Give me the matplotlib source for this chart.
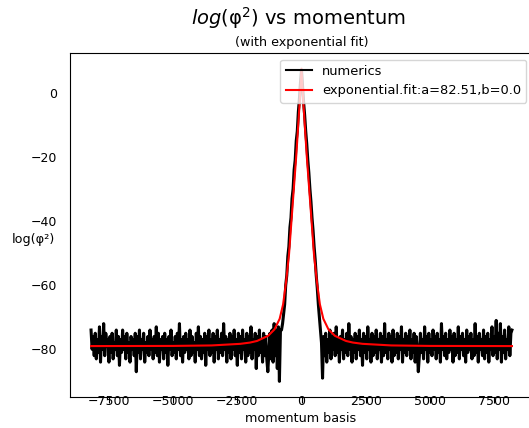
import numpy as np
import matplotlib
matplotlib.use("Agg")
import matplotlib.pyplot as plt

# ---- data ----
noise_left = [
    -74, -80, -76, -82, -75, -83, -77, -81, -73, -84,
    -76, -80, -72, -82, -75, -79, -77, -84, -76, -81,
    -75, -83, -78, -80, -74, -82, -76, -85, -77, -81,
    -74, -80, -76, -83, -75, -81, -78, -84, -76, -80,
    -77, -82, -75, -87, -76, -81, -74, -83, -77, -80,
    -75, -84, -78, -81, -76, -82, -74, -80, -77, -83,
    -76, -81, -73, -82, -75, -84, -77, -80, -76, -83,
    -75, -81, -77, -85, -76, -80, -74, -82, -78, -81,
    -76, -83, -75, -80, -72, -82, -77, -84, -76, -81,
    -75, -80, -77, -83, -74, -82, -76, -81, -78, -84,
    -75, -80, -73, -82, -76, -83, -77, -81, -75, -85,
    -76, -80, -74, -82, -77, -81, -75, -84, -76, -80,
    -74, -83, -77, -81, -75, -82, -72, -80, -76, -84,
    -77, -81, -75, -83, -76, -80, -74, -82, -77, -85,
    -75, -81, -76, -83, -74, -80, -77, -84, -75, -82,
    -76, -81, -73, -83, -77, -80, -75, -86, -76, -82,
    -74, -81, -77, -84, -75, -82, -76, -83, -87, -81,
    -75, -83, -74, -84, -72, -82, -74, -86, -73, -90,
    -74,
]
peak = [
    -74, -72, -69, -66, -60, -57, -51, -48, -42, -39,
    -33, -30, -24, -21, -15, -12, -6, -2, 3, 7,
    2, -3, -7, -12, -16, -21, -25, -30, -34, -39,
    -43, -48, -52, -57, -61, -66, -70, -74, -78,
]
noise_right = [
    -89, -76, -82, -75, -84, -77, -81, -74, -83, -76,
    -80, -75, -82, -73, -81, -77, -84, -76, -80, -74,
    -83, -77, -81, -75, -82, -72, -80, -76, -84, -77,
    -81, -75, -83, -76, -80, -74, -82, -77, -85, -75,
    -81, -76, -83, -73, -80, -77, -84, -75, -82, -76,
    -81, -74, -83, -77, -80, -75, -84, -76, -82, -72,
    -81, -77, -83, -75, -80, -76, -84, -74, -82, -77,
    -81, -75, -83, -76, -80, -73, -84, -77, -81, -75,
    -82, -76, -80, -74, -83, -77, -81, -75, -84, -76,
    -80, -87, -82, -75, -81, -77, -83, -73, -80, -76,
    -84, -75, -81, -77, -82, -74, -80, -76, -83, -75,
    -81, -77, -84, -72, -80, -76, -82, -75, -83, -77,
    -81, -74, -80, -76, -84, -75, -82, -77, -81, -73,
    -83, -76, -80, -75, -82, -77, -84, -74, -81, -76,
    -80, -75, -83, -77, -82, -72, -81, -76, -84, -75,
    -80, -77, -82, -74, -83, -76, -81, -75, -84, -77,
    -80, -73, -82, -76, -81, -71, -83, -75, -80, -72,
    -84, -76, -81, -74, -83, -77, -80, -73, -82, -75,
    -74,
]
numerics = noise_left + peak + noise_right
momentum = np.linspace(-8192, 8192, len(numerics))

fit_k = [-8192, -5000, -3500, -2380, -2000, -1730, -1300, -1050, -850, -716,
         -600, -487, -350, -203, -77, 0, 77, 203, 350, 487, 600, 716, 850,
         1050, 1300, 1730, 2000, 2380, 3500, 5000, 8192]
fit_y = [-79.0, -78.95, -78.8, -78.3, -77.9, -77.4, -75.8, -73.8, -70.5, -66.0,
         -59.0, -50.5, -35.5, -19.5, -3.8, 7.5, -3.8, -19.5, -35.5, -50.5,
         -59.0, -66.0, -70.5, -73.8, -75.8, -77.4, -77.9, -78.3, -78.8,
         -78.95, -79.0]

xticks = [-7500, -5000, -2500, 0, 2500, 5000, 7500]
yticks = [0, -20, -40, -60, -80]

W, H = 529, 428
fig = plt.figure(figsize=(W / 100, H / 100), dpi=100)
ax = fig.add_axes([70 / W, 1 - 397 / H, 463 / W, 344 / H])

ax.plot(momentum, numerics, color="black", lw=2.2, label="numerics")
ax.plot(fit_k, fit_y, color="red", lw=1.5, label="exponential.fit:a=82.51,b=0.0")

ax.set_xticks(xticks)
ax.set_yticks(yticks)
ax.tick_params(axis="x", labelsize=9, direction="out", length=4, pad=-5.5)
ax.tick_params(axis="y", labelsize=9, length=0, pad=9)

leg = ax.legend(loc="upper right", fontsize=9.4)
for h in leg.get_lines():
    h.set_linewidth(1.5)

ax.set_title("(with exponential fit)", fontsize=9.2, pad=5)
fig.text(298 / W, 1 - 18 / H, r"$log$(φ$^2$) vs momentum", fontsize=14,
         ha="center", va="center")
fig.text(33 / W, 1 - 240 / H, "log(φ²)", fontsize=9.2, ha="center", va="center")
fig.text(301 / W, 1 - 418 / H, "momentum basis", fontsize=9.2, ha="center", va="center")

fig.savefig("out.png", dpi=100)
